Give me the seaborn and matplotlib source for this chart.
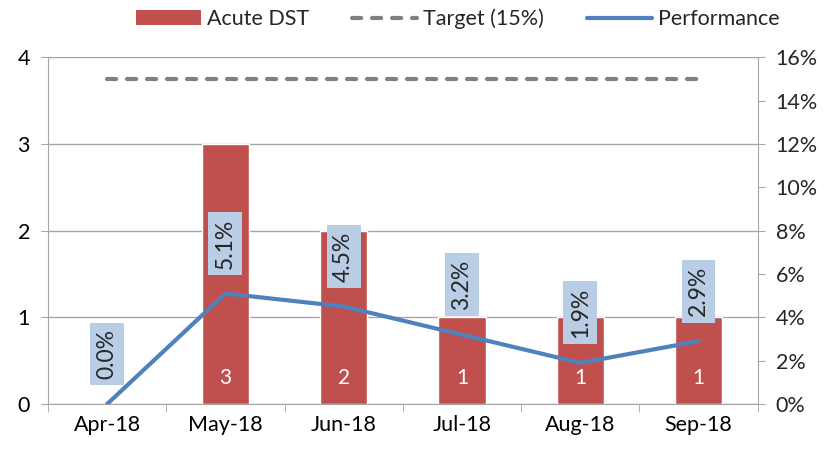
import numpy as np
import pandas as pd
import matplotlib
matplotlib.use("Agg")
import matplotlib.pyplot as plt
import seaborn as sns
from matplotlib.patches import Patch
from matplotlib.lines import Line2D
from matplotlib.ticker import FixedLocator

months = ["Apr-18", "May-18", "Jun-18", "Jul-18", "Aug-18", "Sep-18"]
acute_dst = [0, 3, 2, 1, 1, 1]
performance = [0.0, 5.1, 4.5, 3.2, 1.9, 2.9]
target = [15, 15, 15, 15, 15, 15]

BAR = "#c0504d"
LINE = "#4f81bd"
TARGET = "#808080"
BOX = "#b9cde5"
DASH = (0, (2.2, 2.6))

sns.set_style("white")
plt.rcParams["font.family"] = ["Lato", "DejaVu Sans"]

df = pd.DataFrame({"month": months, "count": acute_dst,
                   "perf": performance, "target": target})

fig = plt.figure(figsize=(8.33, 4.54), dpi=100)
ax = fig.add_axes([0.0576, 0.110, 0.852, 0.764])

sns.barplot(data=df, x="month", y="count", color=BAR, width=0.4,
            saturation=1, ax=ax, zorder=2)
ax.set_ylim(0, 4)
ax.set_yticks([0, 1, 2, 3, 4])
ax.set_xlim(-0.5, 5.5)
ax.yaxis.grid(True, color="#a6a6a6", linewidth=1, zorder=0)
ax.set_axisbelow(True)
ax.set_xlabel("")
ax.set_ylabel("")
ax.tick_params(axis="both", labelsize=15.5, colors="#000000")
ax.tick_params(axis="x", length=0, pad=8)
ax.tick_params(axis="y", direction="out", length=5, color="#a6a6a6",
               left=True, pad=8)
ax.xaxis.set_minor_locator(FixedLocator(np.arange(-0.5, 6.0, 1)))
ax.tick_params(axis="x", which="minor", direction="out", length=6,
               color="#a6a6a6", bottom=True)
for side in ["top", "right"]:
    ax.spines[side].set_visible(False)
for side in ["left", "bottom"]:
    ax.spines[side].set_color("#a6a6a6")

# count labels inside the bars
for i, c in enumerate(acute_dst):
    if c > 0:
        ax.text(i, 0.3, str(c), ha="center", va="center", color="white",
                fontsize=15, zorder=5)

ax2 = ax.twinx()
x = np.arange(len(months))
sns.lineplot(x=x, y=df["target"], ax=ax2, color=TARGET, linewidth=3,
             linestyle=DASH, dash_capstyle="round", zorder=3)
sns.lineplot(x=x, y=df["perf"], ax=ax2, color=LINE, linewidth=3,
             zorder=3)
ax2.set_ylim(0, 16)
ax2.set_yticks(np.arange(0, 17, 2))
ax2.set_yticklabels([f"{v}%" for v in range(0, 17, 2)])
ax2.set_ylabel("")
ax2.tick_params(axis="y", labelsize=15.5, direction="out", length=5,
                color="#a6a6a6", right=True, pad=8)
for side in ["top", "left", "bottom"]:
    ax2.spines[side].set_visible(False)
ax2.spines["right"].set_color("#a6a6a6")

for i, p in enumerate(performance):
    ax2.annotate(f"{p:.1f}%", (i, p), xytext=(0, 36),
                 textcoords="offset points", rotation=90,
                 ha="center", va="center", fontsize=16.5, zorder=6,
                 bbox=dict(boxstyle="square,pad=0.28", facecolor=BOX,
                           edgecolor="none"))

handles = [Patch(facecolor=BAR, edgecolor="none"),
           Line2D([], [], color=TARGET, linewidth=3, linestyle=DASH,
                  dash_capstyle="round"),
           Line2D([], [], color=LINE, linewidth=3)]
fig.legend(handles, ["Acute DST", "Target (15%)", "Performance"],
           loc="center", bbox_to_anchor=(0.55, 0.958), ncol=3,
           frameon=False, fontsize=15.5, handlelength=3.0,
           handletextpad=0.3, columnspacing=2.0)

fig.savefig("out.png", dpi=100)
